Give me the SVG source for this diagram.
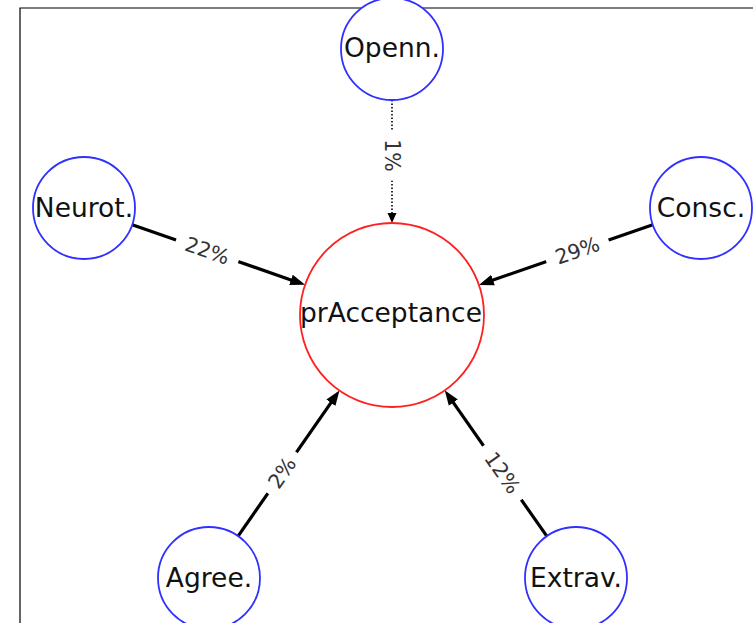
<svg xmlns="http://www.w3.org/2000/svg" width="753" height="623" viewBox="0 0 753 623">
<style>
.frame{fill:none;stroke:#000;stroke-width:1.2}
.src{fill:#fff;stroke:#3030ff;stroke-width:1.8}
.tgt{fill:#fff;stroke:#ff2020;stroke-width:1.8}
.nl{font-family:"DejaVu Sans",sans-serif;font-size:26.5px;fill:#111;text-anchor:middle;dominant-baseline:central}
.el{font-family:"DejaVu Sans",sans-serif;font-size:20.5px;fill:#333;text-anchor:middle;dominant-baseline:central}
.solid{stroke:#000;stroke-width:3.2;fill:none;marker-end:url(#ah)}
.dot{stroke:#000;stroke-width:1.6;fill:none;stroke-dasharray:1.5 2;marker-end:url(#ahs)}
.bg{fill:#fff}
</style>
<defs>
<marker id="ah" markerUnits="userSpaceOnUse" orient="auto" markerWidth="18" markerHeight="13" refX="3" refY="5.5" viewBox="0 0 18 11">
<path d="M0,0 L15,5.5 L0,11 z" fill="#000"/>
</marker>
<marker id="ahs" markerUnits="userSpaceOnUse" orient="auto" markerWidth="12" markerHeight="10" refX="1" refY="4.5" viewBox="0 0 12 9">
<path d="M0,0 L10,4.5 L0,9 z" fill="#000"/>
</marker>
</defs>
<rect width="753" height="623" fill="#fff"/>
<path class="frame" d="M20,623 V8 H753"/>
<g id="edges">
<line class="dot" x1="392" y1="100" x2="392" y2="214"/>
<line class="solid" x1="132.2" y1="224.7" x2="293.8" y2="280.9"/>
<line class="solid" x1="652.8" y1="224.7" x2="490.2" y2="281.0"/>
<line class="solid" x1="238.1" y1="536.1" x2="332.6" y2="400.3"/>
<line class="solid" x1="546.8" y1="536.2" x2="451.6" y2="400.2"/>
<g transform="translate(392,155.4) rotate(90)"><rect class="bg" x="-25" y="-13" width="50" height="26"/><text class="el" x="0" y="0">1%</text></g>
<g transform="translate(207.2,250.8) rotate(19.2)"><rect class="bg" x="-33" y="-14" width="66" height="28"/><text class="el" x="0" y="0">22%</text></g>
<g transform="translate(577.4,250.8) rotate(-19.1)"><rect class="bg" x="-33" y="-14" width="66" height="28"/><text class="el" x="0" y="0">29%</text></g>
<g transform="translate(282.2,472.8) rotate(-55.2)"><rect class="bg" x="-25" y="-13" width="50" height="26"/><text class="el" x="0" y="0">2%</text></g>
<g transform="translate(502.4,472.8) rotate(55)"><rect class="bg" x="-33" y="-14" width="66" height="28"/><text class="el" x="0" y="0">12%</text></g>
</g>
<g id="node-prAcceptance"><circle class="tgt" cx="392" cy="315" r="92"/><text class="nl" x="391" y="312">prAcceptance</text></g>
<g id="node-Openn"><circle class="src" cx="392" cy="49" r="51"/><text class="nl" x="392" y="47">Openn.</text></g>
<g id="node-Neurot"><circle class="src" cx="84" cy="208" r="51"/><text class="nl" x="84" y="207">Neurot.</text></g>
<g id="node-Consc"><circle class="src" cx="701" cy="208" r="51"/><text class="nl" x="701" y="207">Consc.</text></g>
<g id="node-Agree"><circle class="src" cx="209" cy="578" r="51"/><text class="nl" x="209" y="577">Agree.</text></g>
<g id="node-Extrav"><circle class="src" cx="576" cy="578" r="51"/><text class="nl" x="576" y="577">Extrav.</text></g>
</svg>
